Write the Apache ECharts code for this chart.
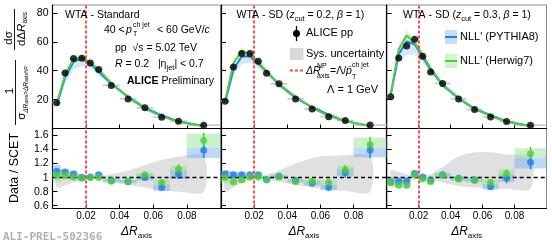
<!DOCTYPE html>
<html><head><meta charset="utf-8">
<script src="https://cdn.jsdelivr.net/npm/echarts@6/dist/echarts.min.js"></script>
<style>html,body{margin:0;padding:0;background:#fff}#c{width:552px;height:243px}</style>
</head><body><div id="c"></div>
<script>
// ---------------- data ----------------
const binEdges = [0, 0.005, 0.01, 0.015, 0.02, 0.025, 0.03, 0.04, 0.05, 0.06, 0.07, 0.08, 0.1];
const binCenters = [0.0025, 0.0075, 0.0125, 0.0175, 0.0225, 0.0275, 0.035, 0.045, 0.055, 0.065, 0.075, 0.09];
const xTicks = [0.02, 0.04, 0.06, 0.08];
const yTicksTop = [20, 40, 60, 80];
const yTicksRatio = [0.6, 0.8, 1, 1.2, 1.4, 1.6];
const npCut = 0.0208;

// Panel 1: WTA - Standard
const std_data = [17.8, 38.5, 48.4, 48.7, 45.4, 40.8, 29.8, 20.5, 14.3, 7.8, 5.1, 2.3];
const std_pythia = [16.3, 35.5, 46.1, 48.5, 45.0, 39.2, 31.0, 21.8, 14.3, 9.0, 4.9, 1.7];
const std_herwig = [17.1, 37.4, 47.9, 49.2, 45.4, 40.8, 31.4, 21.6, 13.8, 8.4, 4.6, 1.5];
const std_pythiaLo = [15.0, 31.0, 40.5, 43.0, 41.5, 37.0, 29.5, 21.0, 13.8, 8.6, 4.6, 1.5];
const std_pythiaHi = [17.2, 37.0, 48.0, 50.0, 46.5, 40.5, 32.5, 23.5, 15.8, 9.8, 5.3, 1.9];
const std_herwigLo = [16.4, 36.0, 46.0, 47.5, 44.2, 39.8, 30.6, 21.0, 13.4, 8.1, 4.4, 1.4];
const std_herwigHi = [18.0, 39.0, 50.5, 51.0, 46.8, 42.0, 32.3, 22.3, 14.3, 8.8, 4.9, 1.7];
const std_ratioPythia = [1.09, 1.08, 1.05, 1.00, 1.01, 1.04, 0.96, 0.94, 1.00, 0.86, 1.05, 1.39];
const std_ratioHerwig = [1.04, 1.03, 1.01, 0.99, 1.00, 1.00, 0.95, 0.95, 1.04, 0.93, 1.12, 1.53];
const std_ratioErr = [0.02, 0.01, 0.01, 0.01, 0.01, 0.01, 0.01, 0.01, 0.02, 0.03, 0.07, 0.11];
const std_boxPythiaLo = [0.98, 1.00, 1.00, 0.96, 0.98, 1.00, 0.93, 0.92, 0.96, 0.81, 0.98, 1.28];
const std_boxPythiaHi = [1.18, 1.12, 1.10, 1.05, 1.03, 1.06, 0.99, 0.97, 1.05, 0.90, 1.10, 1.43];
const std_boxHerwigLo = [0.93, 0.97, 0.97, 0.96, 0.98, 0.98, 0.93, 0.93, 0.98, 0.90, 1.05, 1.43];
const std_boxHerwigHi = [1.10, 1.08, 1.06, 1.03, 1.02, 1.03, 0.98, 0.97, 1.07, 0.97, 1.17, 1.63];
const std_sysLo = [0.86, 0.89, 0.93, 0.96, 0.98, 0.97, 0.94, 0.90, 0.86, 0.82, 0.80, 0.80];
const std_sysHi = [1.12, 1.10, 1.07, 1.04, 1.02, 1.02, 1.05, 1.10, 1.18, 1.25, 1.30, 1.31];

// Panel 2: WTA - SD (zcut = 0.2)
const sd02_data = [18.9, 42.5, 51.9, 51.9, 46.6, 38.2, 31.0, 20.5, 13.5, 8.2, 5.5, 2.5];
const sd02_pythia = [18.0, 40.9, 49.9, 49.9, 44.8, 39.4, 30.4, 21.4, 14.7, 9.5, 5.1, 1.8];
const sd02_herwig = [18.9, 45.2, 53.5, 51.4, 46.1, 39.4, 30.7, 21.8, 14.2, 8.8, 5.0, 1.7];
const sd02_pythiaLo = [16.5, 36.5, 44.5, 45.5, 41.5, 37.0, 29.0, 20.5, 14.0, 9.0, 4.8, 1.6];
const sd02_pythiaHi = [19.0, 42.0, 51.5, 51.0, 46.0, 40.5, 31.8, 22.8, 15.6, 10.2, 5.5, 2.0];
const sd02_herwigLo = [18.0, 43.5, 51.5, 49.5, 45.0, 38.5, 30.0, 21.2, 13.7, 8.5, 4.8, 1.6];
const sd02_herwigHi = [20.0, 47.5, 56.5, 53.5, 48.0, 41.0, 32.0, 23.0, 15.0, 9.3, 5.3, 1.9];
const sd02_ratioPythia = [1.05, 1.04, 1.04, 1.04, 1.04, 0.97, 1.02, 0.96, 0.92, 0.86, 1.07, 1.39];
const sd02_ratioHerwig = [1.00, 0.94, 0.97, 1.01, 1.01, 0.97, 1.01, 0.94, 0.95, 0.93, 1.11, 1.47];
const sd02_ratioErr = [0.02, 0.01, 0.01, 0.01, 0.01, 0.01, 0.01, 0.01, 0.02, 0.03, 0.07, 0.11];
const sd02_boxPythiaLo = [0.98, 0.99, 0.99, 1.00, 1.00, 0.95, 0.99, 0.94, 0.89, 0.82, 1.02, 1.29];
const sd02_boxPythiaHi = [1.10, 1.08, 1.08, 1.07, 1.07, 0.99, 1.04, 0.98, 0.95, 0.90, 1.12, 1.43];
const sd02_boxHerwigLo = [0.92, 0.90, 0.93, 0.97, 0.98, 0.95, 0.98, 0.92, 0.92, 0.90, 1.06, 1.43];
const sd02_boxHerwigHi = [1.05, 0.99, 1.01, 1.04, 1.04, 0.99, 1.03, 0.96, 0.97, 0.96, 1.17, 1.57];
const sd02_sysLo = [0.80, 0.86, 0.92, 0.96, 0.98, 0.97, 0.94, 0.90, 0.86, 0.83, 0.81, 0.80];
const sd02_sysHi = [1.10, 1.08, 1.05, 1.03, 1.02, 1.04, 1.10, 1.20, 1.28, 1.31, 1.32, 1.31];

// Panel 3: WTA - SD (zcut = 0.3)
const sd03_data = [21.9, 48.8, 57.2, 61.8, 50.0, 39.1, 31.2, 20.5, 13.1, 8.0, 4.9, 2.2];
const sd03_pythia = [23.3, 51.4, 60.2, 58.3, 49.5, 40.7, 30.0, 20.7, 13.5, 9.2, 4.9, 1.8];
const sd03_herwig = [23.5, 54.8, 64.3, 59.4, 51.0, 41.6, 30.3, 20.9, 13.6, 8.6, 4.7, 1.6];
const sd03_pythiaLo = [20.5, 45.0, 51.0, 51.0, 45.5, 38.0, 28.5, 19.6, 12.9, 8.7, 4.5, 1.6];
const sd03_pythiaHi = [24.5, 53.0, 62.0, 60.0, 51.0, 42.5, 32.0, 22.8, 15.2, 10.4, 5.4, 2.0];
const sd03_herwigLo = [22.5, 52.0, 60.0, 57.0, 49.5, 40.0, 29.5, 20.2, 13.2, 8.3, 4.5, 1.5];
const sd03_herwigHi = [25.0, 57.5, 68.0, 62.5, 53.0, 43.5, 31.8, 22.0, 14.5, 9.2, 5.0, 1.8];
const sd03_ratioPythia = [0.94, 0.95, 0.95, 1.06, 1.01, 0.96, 1.04, 0.99, 0.97, 0.87, 0.99, 1.22];
const sd03_ratioHerwig = [0.93, 0.89, 0.89, 1.04, 0.98, 0.94, 1.03, 0.98, 0.96, 0.93, 1.05, 1.34];
const sd03_ratioErr = [0.02, 0.01, 0.01, 0.01, 0.01, 0.01, 0.01, 0.01, 0.02, 0.03, 0.07, 0.10];
const sd03_boxPythiaLo = [0.90, 0.90, 0.90, 1.02, 0.98, 0.93, 1.00, 0.96, 0.94, 0.83, 0.94, 1.13];
const sd03_boxPythiaHi = [1.00, 1.00, 1.00, 1.10, 1.04, 0.99, 1.07, 1.02, 1.00, 0.91, 1.05, 1.28];
const sd03_boxHerwigLo = [0.88, 0.85, 0.85, 1.00, 0.95, 0.92, 1.00, 0.95, 0.93, 0.89, 1.00, 1.28];
const sd03_boxHerwigHi = [0.97, 0.94, 0.94, 1.07, 1.01, 0.97, 1.06, 1.01, 0.99, 0.97, 1.12, 1.42];
const sd03_sysLo = [0.86, 0.89, 0.93, 0.97, 0.98, 0.97, 0.93, 0.88, 0.86, 0.85, 0.84, 0.84];
const sd03_sysHi = [1.10, 1.08, 1.05, 1.03, 1.02, 1.05, 1.15, 1.30, 1.36, 1.36, 1.33, 1.30];

// ---------------- style / layout ----------------
const FONT = '"Liberation Sans", Arial, Helvetica, sans-serif';
const C_BLUE = '#1f80ea', C_GREEN = '#4fcd3c';
const C_BLUE_BAND = 'rgba(120,180,240,0.3)', C_GREEN_BAND = 'rgba(140,225,140,0.3)';
const C_BLUE_BOX = 'rgba(110,170,240,0.45)', C_GREEN_BOX = 'rgba(140,225,140,0.45)';
const C_SYS = '#e0e0e0', C_RED = '#ff4a4a';

const panels = [
  {data: std_data, pythia: std_pythia, herwig: std_herwig, pLo: std_pythiaLo, pHi: std_pythiaHi, hLo: std_herwigLo, hHi: std_herwigHi,
   rP: std_ratioPythia, rH: std_ratioHerwig, rErr: std_ratioErr, bPLo: std_boxPythiaLo, bPHi: std_boxPythiaHi, bHLo: std_boxHerwigLo, bHHi: std_boxHerwigHi, sLo: std_sysLo, sHi: std_sysHi},
  {data: sd02_data, pythia: sd02_pythia, herwig: sd02_herwig, pLo: sd02_pythiaLo, pHi: sd02_pythiaHi, hLo: sd02_herwigLo, hHi: sd02_herwigHi,
   rP: sd02_ratioPythia, rH: sd02_ratioHerwig, rErr: sd02_ratioErr, bPLo: sd02_boxPythiaLo, bPHi: sd02_boxPythiaHi, bHLo: sd02_boxHerwigLo, bHHi: sd02_boxHerwigHi, sLo: sd02_sysLo, sHi: sd02_sysHi},
  {data: sd03_data, pythia: sd03_pythia, herwig: sd03_herwig, pLo: sd03_pythiaLo, pHi: sd03_pythiaHi, hLo: sd03_herwigLo, hHi: sd03_herwigHi,
   rP: sd03_ratioPythia, rH: sd03_ratioHerwig, rErr: sd03_ratioErr, bPLo: sd03_boxPythiaLo, bPHi: sd03_boxPythiaHi, bHLo: sd03_boxHerwigLo, bHHi: sd03_boxHerwigHi, sLo: sd03_sysLo, sHi: sd03_sysHi}
];
const L = [52.5, 221, 386.7], W = [168, 165.7, 159.8];
const TOP = 5, TOPH = 123.5, BOTTOP = 128.5, BOTH = 80;

function polySeries(ai, lo, hi, fill, smooth, z) {
  return {type: 'custom', xAxisIndex: ai, yAxisIndex: ai, z, silent: true,
    data: [[binCenters[0], lo[0]]], encode: {x: 0, y: 1},
    renderItem: (params, api) => {
      const pts = [];
      for (let k = 0; k < binCenters.length; k++) pts.push(api.coord([binCenters[k], hi[k]]));
      for (let k = binCenters.length - 1; k >= 0; k--) pts.push(api.coord([binCenters[k], lo[k]]));
      return {type: 'polygon', shape: {points: pts, smooth: smooth || 0}, style: {fill: fill, stroke: null}};
    }};
}
function boxSeries(ai, lo, hi, fill, z) {
  return {type: 'custom', xAxisIndex: ai, yAxisIndex: ai, z, silent: true,
    data: binCenters.map((c, k) => [binEdges[k], binEdges[k + 1], lo[k], hi[k]]),
    encode: {x: [0, 1], y: [2, 3]},
    renderItem: (params, api) => {
      const a = api.coord([api.value(0), api.value(3)]), b = api.coord([api.value(1), api.value(2)]);
      return {type: 'rect', shape: {x: a[0], y: a[1], width: b[0] - a[0], height: b[1] - a[1]}, style: {fill: fill}};
    }};
}
function hbarSeries(ai, vals, color, z) {
  return {type: 'custom', xAxisIndex: ai, yAxisIndex: ai, z, silent: true,
    data: binCenters.map((c, k) => [binEdges[k], binEdges[k + 1], vals[k]]),
    encode: {x: [0, 1], y: 2},
    renderItem: (params, api) => {
      const a = api.coord([api.value(0), api.value(2)]), b = api.coord([api.value(1), api.value(2)]);
      return {type: 'line', shape: {x1: a[0], y1: a[1], x2: b[0], y2: b[1]}, style: {stroke: color, lineWidth: 1.5}};
    }};
}
function errSeries(ai, vals, err, color, z) {
  return {type: 'custom', xAxisIndex: ai, yAxisIndex: ai, z, silent: true,
    data: binCenters.map((c, k) => [c, vals[k] - err[k], vals[k] + err[k]]),
    encode: {x: 0, y: [1, 2]},
    renderItem: (params, api) => {
      const a = api.coord([api.value(0), api.value(1)]), b = api.coord([api.value(0), api.value(2)]);
      return {type: 'line', shape: {x1: a[0], y1: a[1], x2: b[0], y2: b[1]}, style: {stroke: color, lineWidth: 1.5}};
    }};
}
const pairs = (vals) => binCenters.map((c, k) => [c, vals[k]]);

const grid = [], xAxis = [], yAxis = [], series = [];
const axLine = {show: true, onZero: false, lineStyle: {color: '#000', width: 1.2}};
panels.forEach((p, i) => {
  const gt = i * 2, gb = i * 2 + 1;
  grid.push({left: L[i], top: TOP, width: W[i], height: TOPH, show: true, borderColor: '#8a8a8a', borderWidth: 1});
  grid.push({left: L[i], top: BOTTOP, width: W[i], height: BOTH, show: true, borderColor: '#8a8a8a', borderWidth: 1});
  xAxis.push({gridIndex: gt, type: 'value', min: 0, max: 0.1, axisLine: axLine,
    axisTick: {inside: true, length: 4, customValues: xTicks, lineStyle: {color: '#000'}},
    axisLabel: {show: false}, splitLine: {show: false}});
  xAxis.push({gridIndex: gb, type: 'value', min: 0, max: 0.1, axisLine: axLine,
    axisTick: {inside: true, length: 4, customValues: xTicks, lineStyle: {color: '#000'}},
    axisLabel: {show: true, customValues: xTicks, formatter: v => v.toFixed(2), fontSize: 10, margin: 3, color: '#000', fontFamily: FONT},
    splitLine: {show: false},
    name: '{i|ΔR}{s|axis}', nameLocation: 'middle', nameGap: 15,
    nameTextStyle: {fontFamily: FONT, color: '#000', rich: {
      i: {fontSize: 12, fontStyle: 'italic', fontFamily: FONT, lineHeight: 16, verticalAlign: 'middle', color: '#000'},
      s: {fontSize: 8, fontFamily: FONT, lineHeight: 8, verticalAlign: 'bottom', color: '#000'}}}});
  yAxis.push({gridIndex: gt, type: 'value', min: 0, max: 85.5, axisLine: axLine,
    axisTick: {inside: true, length: 5, customValues: yTicksTop, lineStyle: {color: '#000'}},
    axisLabel: {show: i === 0, customValues: yTicksTop, fontSize: 10.5, margin: 4, color: '#000', fontFamily: FONT},
    splitLine: {show: false}});
  yAxis.push({gridIndex: gb, type: 'value', min: 0.56, max: 1.7, axisLine: axLine,
    axisTick: {inside: true, length: 5, customValues: yTicksRatio, lineStyle: {color: '#000'}},
    axisLabel: {show: i === 0, customValues: yTicksRatio, fontSize: 10.5, margin: 4, color: '#000', fontFamily: FONT},
    splitLine: {show: false}});

  // top panel
  series.push(polySeries(gt, p.pLo, p.pHi, C_BLUE_BAND, 0, 1));
  series.push(polySeries(gt, p.hLo, p.hHi, C_GREEN_BAND, 0, 1));
  series.push(hbarSeries(gt, p.data, '#c4c4c4', 2));
  series.push({type: 'line', xAxisIndex: gt, yAxisIndex: gt, data: pairs(p.pythia), symbol: 'none', z: 3,
    lineStyle: {color: C_BLUE, width: 2}, silent: true});
  series.push({type: 'line', xAxisIndex: gt, yAxisIndex: gt, data: pairs(p.herwig), symbol: 'none', z: 3,
    lineStyle: {color: C_GREEN, width: 2}, silent: true});
  series.push({type: 'scatter', xAxisIndex: gt, yAxisIndex: gt, data: pairs(p.data), symbol: 'circle', symbolSize: 7, z: 5,
    itemStyle: {color: '#000'}, silent: true,
    markLine: {silent: true, symbol: 'none', label: {show: false}, animation: false,
      lineStyle: {color: C_RED, width: 2, type: [3, 2]}, data: [{xAxis: npCut}]}});

  // ratio panel
  series.push(polySeries(gb, p.sLo, p.sHi, C_SYS, 0.3, 1));
  series.push(boxSeries(gb, p.bPLo, p.bPHi, C_BLUE_BOX, 2));
  series.push(boxSeries(gb, p.bHLo, p.bHHi, C_GREEN_BOX, 2));
  series.push({type: 'scatter', xAxisIndex: gb, yAxisIndex: gb, data: pairs(p.rP), symbolSize: 0, z: 3, silent: true,
    markLine: {silent: true, symbol: 'none', label: {show: false}, animation: false, data: [
      {yAxis: 1, lineStyle: {color: '#000', width: 1.3, type: [4, 3]}},
      {xAxis: npCut, lineStyle: {color: C_RED, width: 2, type: [3, 2]}}]}});
  series.push(errSeries(gb, p.rP, p.rErr, C_BLUE, 4));
  series.push(errSeries(gb, p.rH, p.rErr, C_GREEN, 4));
  series.push({type: 'scatter', xAxisIndex: gb, yAxisIndex: gb, data: pairs(p.rP), symbolSize: 7, z: 5,
    itemStyle: {color: C_BLUE}, silent: true});
  series.push({type: 'scatter', xAxisIndex: gb, yAxisIndex: gb, data: pairs(p.rH), symbolSize: 7, z: 6,
    itemStyle: {color: C_GREEN}, silent: true});
});

// ---------------- text graphics ----------------
const RICH = {
  n: {fontSize: 10.5, fontFamily: FONT, fill: '#000', lineHeight: 15, verticalAlign: 'middle'},
  i: {fontSize: 10.5, fontFamily: FONT, fontStyle: 'italic', fill: '#000', lineHeight: 15, verticalAlign: 'middle'},
  b: {fontSize: 10.5, fontFamily: FONT, fontWeight: 'bold', fill: '#000', lineHeight: 15, verticalAlign: 'middle'},
  s: {fontSize: 7.5, fontFamily: FONT, fill: '#000', lineHeight: 8, verticalAlign: 'bottom'},
  u: {fontSize: 7.5, fontFamily: FONT, fill: '#000', lineHeight: 8, verticalAlign: 'top'}
};
function T(x, y, text, o) {
  o = o || {};
  return {type: 'text', x, y, rotation: o.rot || 0, silent: true, z: 100,
    style: {text, rich: o.rich || RICH, fontFamily: FONT, fontSize: o.size || 10.5, fill: o.fill || '#000',
      fontWeight: o.weight || 'normal', fontStyle: o.style || 'normal',
      align: o.align || 'left', verticalAlign: 'middle'}};
}
const V = Math.PI / 2;
const RICHY = {
  n: {fontSize: 11.5, fontFamily: FONT, fill: '#000', lineHeight: 15, verticalAlign: 'middle'},
  i: {fontSize: 11.5, fontFamily: FONT, fontStyle: 'italic', fill: '#000', lineHeight: 15, verticalAlign: 'middle'},
  s: {fontSize: 6.5, fontFamily: FONT, fill: '#000', lineHeight: 7, verticalAlign: 'bottom'},
  si: {fontSize: 6.5, fontFamily: FONT, fontStyle: 'italic', fill: '#000', lineHeight: 7, verticalAlign: 'bottom'},
  t: {fontSize: 5, fontFamily: FONT, fill: '#000', lineHeight: 4, verticalAlign: 'bottom'}
};
const graphics = [
  // y-axis title (top)
  T(8.5, 38, '{n|dσ}', {rot: V, rich: RICHY, align: 'center'}),
  {type: 'line', silent: true, shape: {x1: 14.5, y1: 9, x2: 14.5, y2: 50}, style: {stroke: '#000', lineWidth: 0.9}},
  T(21.5, 29, '{n|dΔ}{i|R}{s|axis}', {rot: V, rich: RICHY, align: 'center'}),
  T(10, 91, '{n|1}', {rot: V, rich: RICHY, align: 'center'}),
  {type: 'line', silent: true, shape: {x1: 15.5, y1: 60, x2: 15.5, y2: 125}, style: {stroke: '#000', lineWidth: 0.9}},
  T(22, 93, '{n|σ}{si|ΔR}{t|axis}{s|>}{si|ΔR}{t|axis}{t|NP}', {rot: V, rich: RICHY, align: 'center'}),
  // y-axis title (ratio)
  T(15, 168, 'Data / SCET', {rot: V, size: 12.5, align: 'center'}),
  // panel 1 texts
  T(65, 15, 'WTA - Standard', {size: 10.5}),
  T(104, 30, '40 <'),
  T(126, 30, '{i|p}'),
  T(133, 25.5, 'ch jet', {size: 7}),
  T(133, 34, 'T', {size: 7}),
  T(157, 30, '{n|< 60 GeV/}{i|c}'),
  T(115, 48, '{n|pp  √}{i|s}{n| = 5.02 TeV}'),
  T(115, 64, '{i|R}{n| = 0.2   |η}{s|jet}{n|| < 0.7}'),
  T(127, 81.5, '{b|ALICE}{n| Preliminary}'),
  // panel 2 texts
  T(236.5, 15, '{n|WTA - SD (}{i|z}{s|cut}{n| = 0.2, }{i|β}{n| = 1)}', {size: 11}),
  T(306, 33, 'ALICE pp', {size: 11}),
  T(306, 54, 'Sys. uncertainty', {size: 11}),
  T(306, 71, '{i|ΔR}', {size: 11}),
  T(317, 66, 'NP', {size: 7}),
  T(317, 76, 'axis', {size: 7}),
  T(330, 71, '{n|=Λ/}{i|p̄}'),
  T(352, 65, 'ch jet', {size: 7}),
  T(352, 77, 'T', {size: 7}),
  T(327, 90, 'Λ = 1 GeV', {size: 11}),
  // panel 3 texts
  T(403, 15, '{n|WTA - SD (}{i|z}{s|cut}{n| = 0.3, }{i|β}{n| = 1)}', {size: 11}),
  T(460, 37, "NLL' (PYTHIA8)", {size: 11}),
  T(460, 61, "NLL' (Herwig7)", {size: 11}),
  // legend symbols
  {type: 'line', silent: true, z: 100, shape: {x1: 296.5, y1: 26, x2: 296.5, y2: 41}, style: {stroke: '#000', lineWidth: 1.3}},
  {type: 'circle', silent: true, z: 101, shape: {cx: 296.5, cy: 33.5, r: 3.5}, style: {fill: '#000'}},
  {type: 'rect', silent: true, z: 100, shape: {x: 290, y: 48, width: 13.5, height: 12}, style: {fill: '#d8d8d8'}},
  {type: 'line', silent: true, z: 100, shape: {x1: 290, y1: 70.5, x2: 304, y2: 70.5}, style: {stroke: C_RED, lineWidth: 2, lineDash: [3, 2]}},
  {type: 'rect', silent: true, z: 100, shape: {x: 445, y: 30, width: 12, height: 14}, style: {fill: 'rgba(110,170,240,0.4)'}},
  {type: 'line', silent: true, z: 101, shape: {x1: 445, y1: 37, x2: 457, y2: 37}, style: {stroke: C_BLUE, lineWidth: 2}},
  {type: 'rect', silent: true, z: 100, shape: {x: 445, y: 54, width: 12, height: 14}, style: {fill: 'rgba(140,225,140,0.4)'}},
  {type: 'line', silent: true, z: 101, shape: {x1: 445, y1: 61, x2: 457, y2: 61}, style: {stroke: C_GREEN, lineWidth: 2}},
  // footer
  {type: 'text', x: 3, y: 237, silent: true, z: 100, style: {text: 'ALI-PREL-502366', fontFamily: '"DejaVu Sans Mono", monospace', fontWeight: 'bold', fontSize: 11, fill: '#b0b0b0', verticalAlign: 'middle'}}
];

const chart = echarts.init(document.getElementById('c'), null, {renderer: 'canvas'});
chart.setOption({animation: false, backgroundColor: '#fff', grid, xAxis, yAxis, series, graphic: graphics});
</script>
</body></html>
